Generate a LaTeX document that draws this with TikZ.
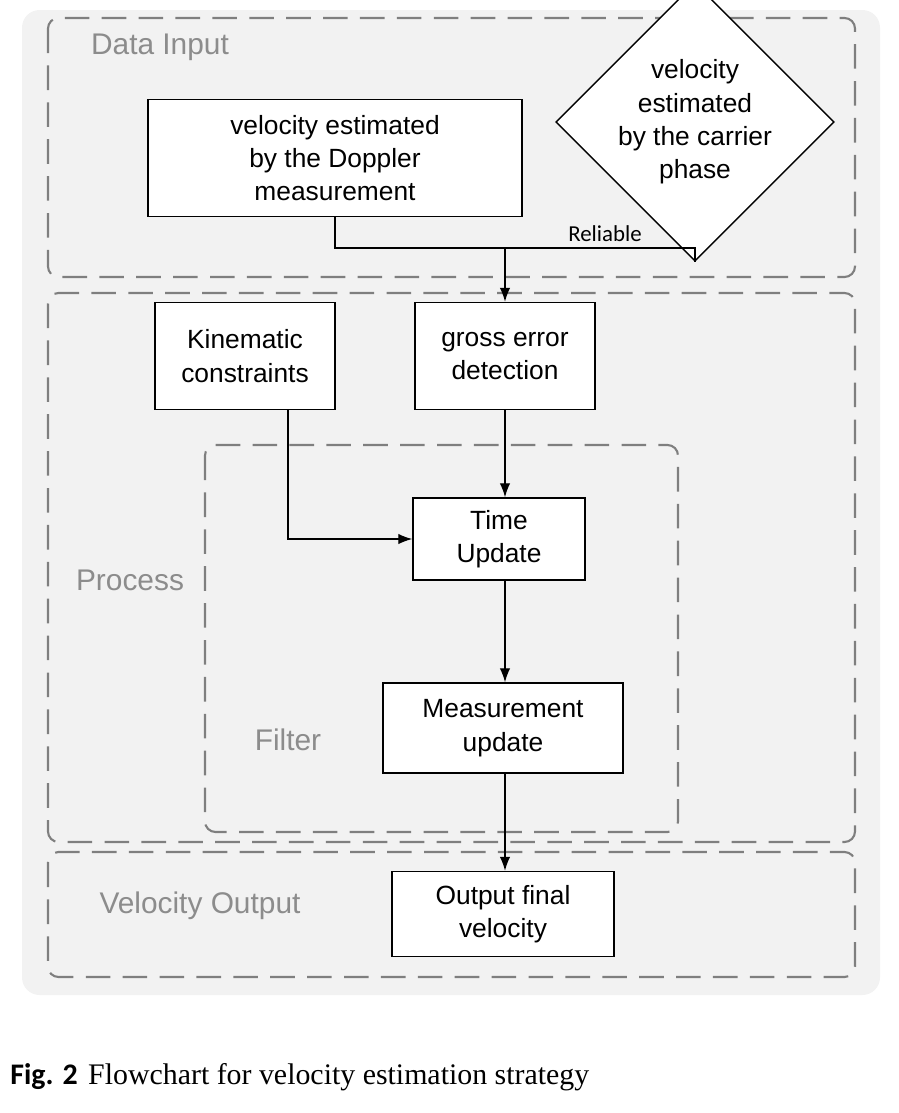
\documentclass[tikz,border=0pt]{standalone}
\usepackage{fontspec}
\setmainfont{Liberation Serif}
\newfontfamily\diag{Liberation Sans}
\newfontfamily\capfont{Carlito}
\usetikzlibrary{shapes.geometric,arrows.meta}
\definecolor{bgc}{HTML}{F2F2F2}
\definecolor{dashc}{HTML}{7F7F7F}
\definecolor{labc}{HTML}{8C8C8C}
\begin{document}
\begin{tikzpicture}[x=0.02cm,y=-0.02cm,
	blk/.style={draw=black,thick,fill=white,align=center,font=\diag\fontsize{15}{19}\selectfont,inner sep=2pt},
	grp/.style={draw=dashc,line width=1.2pt,dash pattern=on 14pt off 7pt,rounded corners=6pt},
	glab/.style={text=labc,font=\diag\fontsize{17}{20}\selectfont},
	arr/.style={thick,-{Latex[length=8pt,width=6pt]}}]
	\useasboundingbox (0,0) rectangle (899,1113);
	\fill[bgc,rounded corners=10pt] (22,10) rectangle (880,995);

	% groups
	\draw[grp] (48,18) rectangle (855,277);
	\draw[grp] (48,293) rectangle (855,842);
	\draw[grp] (205,445) rectangle (678,832);
	\draw[grp] (48,852) rectangle (855,977);
	\node[glab] (lin) at (160,47) {Data Input};
	\node[glab] (lpr) at (130,580) {Process};
	\node[glab] (lfi) at (288,740) {Filter};
	\node[glab] (lout) at (200,906) {Velocity Output};

	% blocks
	\node[blk,minimum width=7.48cm,minimum height=2.34cm] (dop) at (335,158) {velocity estimated\\by the Doppler\\measurement};
	\node[blk,diamond,minimum width=5.08cm,minimum height=2.9cm,inner sep=0pt] (car) at (695,122) {velocity\\estimated\\by the carrier\\phase};
	\node[blk,minimum width=3.6cm,minimum height=2.14cm] (kin) at (245,356) {Kinematic\\constraints};
	\node[blk,minimum width=3.6cm,minimum height=2.14cm] (gro) at (505,356) {gross error\\detection};
	\node[blk,minimum width=3.44cm,minimum height=1.64cm] (tim) at (499,539) {Time\\Update};
	\node[blk,minimum width=4.8cm,minimum height=1.8cm] (mea) at (503,728) {Measurement\\update};
	\node[blk,minimum width=4.44cm,minimum height=1.7cm] (out) at (503,914) {Output final\\velocity};
	\coordinate (j) at (505,248);

	% connectors
	\draw[thick] (dop.south) |- (j) -| (car.south);
	\node[font=\capfont\fontsize{13}{15}\selectfont] (rel) at (605,234) {Reliable};
	\draw[arr] (j) -- (gro.north);
	\draw[arr] (gro.south) -- (gro.south |- tim.north);
	\draw[arr] (kin.south -| 288,0) |- (tim.west);
	\draw[arr] (tim.south -| 505,0) -- (mea.north -| 505,0);
	\draw[arr] (mea.south -| 505,0) -- (out.north -| 505,0);

	% caption
	\node[anchor=west,inner sep=0pt] (cap) at (10,1077) {{\capfont\bfseries\fontsize{17}{20}\selectfont Fig. 2}\hspace{0.6em}{\fontsize{17}{20}\selectfont Flowchart for velocity estimation strategy}};
\end{tikzpicture}
\end{document}
